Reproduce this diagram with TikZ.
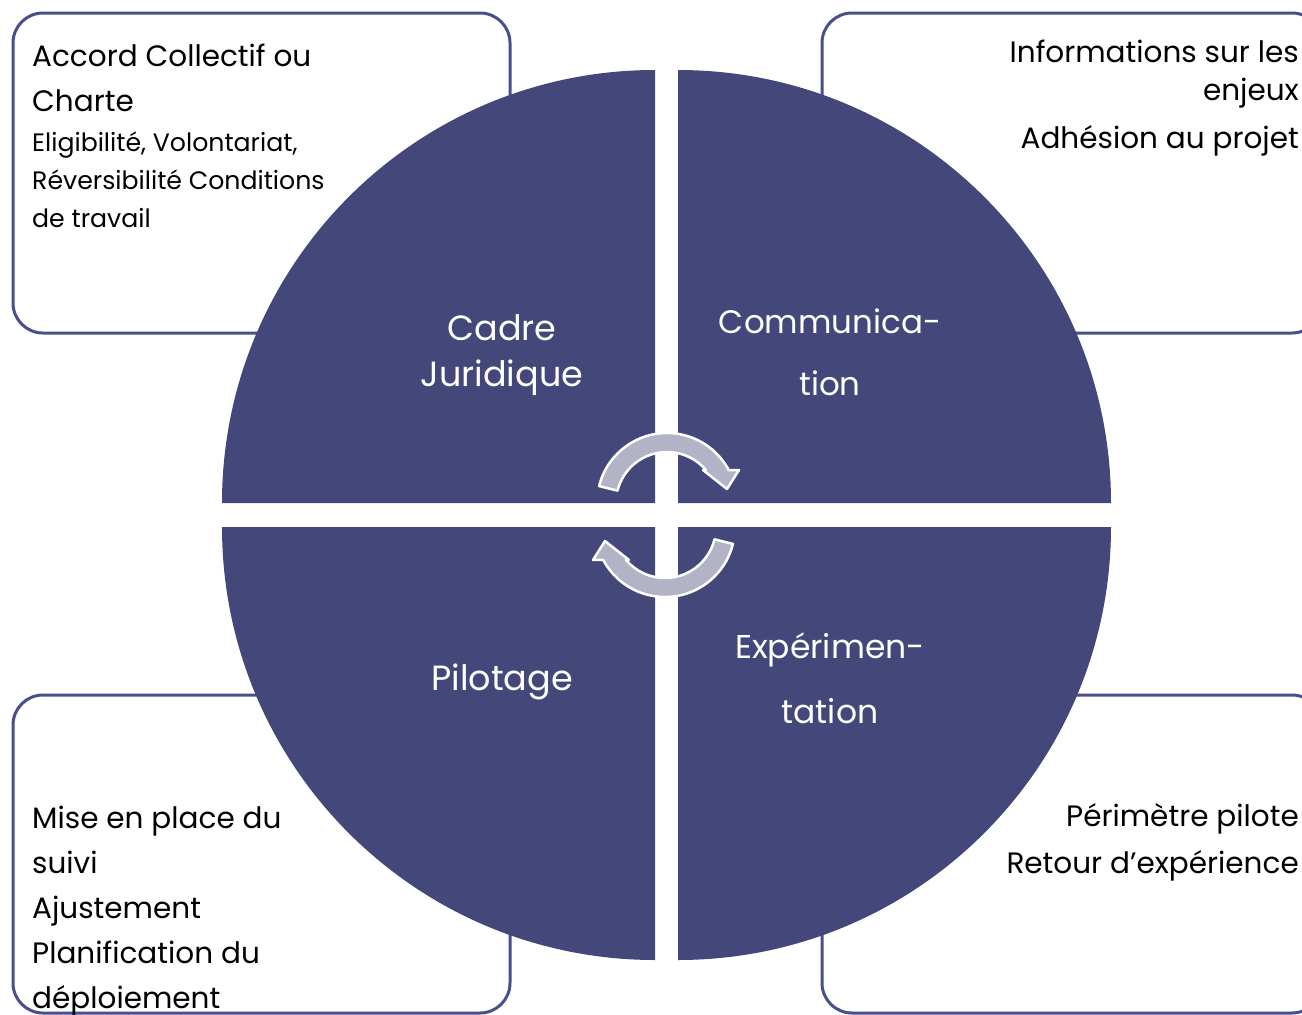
\documentclass[tikz,border=0pt]{standalone}
\usepackage{fontspec}
\setmainfont{Poppins}
\usetikzlibrary{positioning,calc}

\definecolor{piefill}{HTML}{44477A}
\definecolor{boxline}{HTML}{4A4F8C}
\definecolor{arrowfill}{HTML}{B2B3C6}

\begin{document}
\begin{tikzpicture}[x=1pt,y=-1pt]
  \tikzstyle{sidebox}=[draw=boxline, line width=3pt, rounded corners=30pt]
  \tikzstyle{quarter}=[fill=piefill]
  \tikzstyle{boxtext}=[inner sep=0pt, font=\fontsize{29.5}{45}\selectfont]
  \tikzstyle{smalltext}=[inner sep=0pt, font=\fontsize{25.2}{38}\selectfont, align=left]
  \tikzstyle{pielabel}=[inner sep=0pt, text=white, align=center]
  \tikzstyle{arrowbody}=[fill=arrowfill, draw=white, line width=2.5pt, line join=round]

  \useasboundingbox (0,0) rectangle (1302,1015);
  \clip (0,0) rectangle (1302,1015);

  % corner boxes
  \draw[sidebox] (13,13) rectangle (510,333);
  \draw[sidebox] (822,13) rectangle (1322,333);
  \draw[sidebox] (13,695) rectangle (510,1013);
  \draw[sidebox] (822,695) rectangle (1322,1013);

  % four quarters
  \fill[quarter] (655,503) -- (222,503) arc[start angle=180, end angle=270, radius=433] -- cycle;
  \fill[quarter] (678,503) -- (678,70) arc[start angle=270, end angle=360, radius=433] -- cycle;
  \fill[quarter] (678,527) -- (1111,527) arc[start angle=0, end angle=90, radius=433] -- cycle;
  \fill[quarter] (655,527) -- (655,960) arc[start angle=90, end angle=180, radius=433] -- cycle;

  % cycle arrows
  \foreach \cx/\cy/\turn in {667/503/0, 665/527/180} {
    \begin{scope}[shift={(\cx,\cy)}, rotate=\turn]
      \filldraw[arrowbody] (194:70) arc[start angle=194, end angle=332, radius=70]
        -- (72,-33) -- (60,-14) -- (36,-33) -- (319.7:51)
        arc[start angle=319.7, end angle=194, radius=51] -- cycle;
    \end{scope}
  }

  % labels in the quarters
  \node[pielabel, anchor=north, font=\fontsize{35}{46}\selectfont] (cadre) at (502,314) {Cadre\\Juridique};
  \node[pielabel, anchor=north, font=\fontsize{32.5}{62}\selectfont] (comm) at (830,309) {Communica-\\tion};
  \node[pielabel, anchor=base, font=\fontsize{35}{46}\selectfont] (pilotage) at (502,690) {Pilotage};
  \node[pielabel, anchor=north, font=\fontsize{33}{65}\selectfont] (exper) at (830,632) {Expérimen-\\tation};

  % texts in the boxes
  \node[boxtext, align=left, anchor=north west] (accord) at (32,44) {Accord Collectif ou\\Charte};
  \node[smalltext, anchor=north west] (accorddetail) at (32,132) {Eligibilité, Volontariat,\\Réversibilité Conditions\\de travail};
  \node[boxtext, align=right, anchor=north east] (infos) at (1299,40) {Informations sur les\\[-7pt]enjeux\\[3pt]Adhésion au projet};
  \node[boxtext, align=left, anchor=north west] (suivi) at (32,806) {Mise en place du\\suivi\\Ajustement\\Planification du\\déploiement};
  \node[boxtext, align=right, anchor=north east] (retour) at (1299,803) {Périmètre pilote\\[2pt]Retour d’expérience};
\end{tikzpicture}
\end{document}
